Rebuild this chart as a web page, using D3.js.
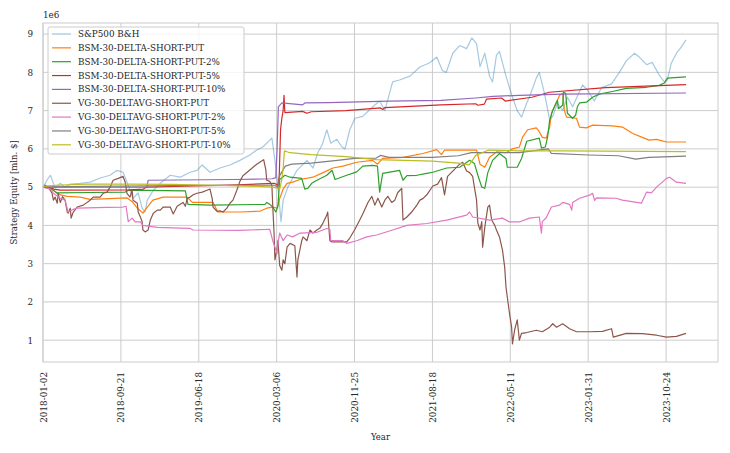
<!DOCTYPE html>
<html>
<head>
<meta charset="utf-8">
<script src="https://cdn.jsdelivr.net/npm/d3@7"></script>
<style>
  body { margin: 0; background: #fff; }
  text { font-family: "DejaVu Serif", serif; fill: #262626; }
</style>
</head>
<body>
<div id="chart"></div>
<script>
// tick positions are trading-day indices, labels are the dates at those indices
var tickIndex = [0, 180, 360, 540, 720, 900, 1080, 1260, 1440];
var tickLabels = ["2018-01-02", "2018-09-21", "2019-06-18", "2020-03-06", "2020-11-25",
                  "2021-08-18", "2022-05-11", "2023-01-31", "2023-10-24"];
var yTicks = [1, 2, 3, 4, 5, 6, 7, 8, 9];

var seriesNames = ["S&P500 B&H", "BSM-30-DELTA-SHORT-PUT", "BSM-30-DELTA-SHORT-PUT-2%",
  "BSM-30-DELTA-SHORT-PUT-5%", "BSM-30-DELTA-SHORT-PUT-10%", "VG-30-DELTAVG-SHORT-PUT",
  "VG-30-DELTAVG-SHORT-PUT-2%", "VG-30-DELTAVG-SHORT-PUT-5%", "VG-30-DELTAVG-SHORT-PUT-10%"];

// [trading day index, equity in mln $]
var spx = [[0,5.0],[3,5.05],[10,5.2],[17,5.31],[28,4.98],[40,5.1],[50,5.0],[63,5.08],[86,5.1],[109,5.13],[132,5.24],[155,5.31],[171,5.44],[185,5.39],[195,5.1],[208,4.71],[220,4.85],[229,4.45],[236,4.35],[241,4.66],[255,4.92],[271,5.1],[294,5.31],[317,5.26],[340,5.39],[356,5.44],[368,5.58],[386,5.39],[409,5.5],[432,5.58],[455,5.7],[478,5.84],[494,5.97],[508,6.05],[529,6.28],[536,5.7],[543,5.0],[550,4.1],[555,4.66],[566,5.0],[587,5.44],[610,5.7],[624,5.5],[635,5.9],[645,6.1],[656,6.5],[665,6.15],[679,6.25],[691,6.05],[698,6.0],[709,6.5],[721,6.8],[739,6.85],[762,7.1],[778,7.25],[790,7.0],[808,7.75],[824,7.8],[848,7.9],[871,8.14],[894,8.25],[910,8.4],[923,8.05],[932,8.0],[947,8.5],[963,8.7],[979,8.62],[991,8.9],[1002,8.75],[1010,8.15],[1021,8.5],[1032,7.9],[1039,7.75],[1048,8.45],[1055,8.55],[1070,7.9],[1085,7.35],[1096,7.0],[1106,6.83],[1118,7.2],[1124,7.35],[1140,7.85],[1147,8.0],[1159,7.45],[1171,6.75],[1178,6.85],[1189,7.2],[1201,7.0],[1212,7.35],[1224,7.1],[1236,7.4],[1247,7.67],[1258,7.55],[1274,7.25],[1291,7.6],[1314,7.7],[1332,8.0],[1348,8.3],[1367,8.5],[1378,8.4],[1395,8.2],[1408,8.26],[1424,7.93],[1436,7.75],[1443,7.8],[1452,8.24],[1464,8.5],[1475,8.66],[1486,8.85]];

var bsmPut = [[0,5.0],[17,4.98],[31,4.85],[40,4.8],[56,4.76],[86,4.74],[109,4.68],[155,4.7],[194,4.72],[206,4.62],[218,4.45],[231,4.32],[241,4.48],[254,4.66],[278,4.74],[333,4.74],[345,4.6],[393,4.6],[404,4.35],[455,4.35],[501,4.37],[517,4.45],[531,4.48],[541,4.45],[547,4.7],[555,4.95],[564,5.1],[577,5.13],[594,5.2],[624,5.26],[651,5.4],[670,5.5],[693,5.55],[725,5.65],[762,5.7],[773,5.6],[785,5.75],[832,5.78],[878,5.88],[910,5.98],[921,5.85],[928,5.97],[1002,5.97],[1010,5.6],[1021,5.52],[1032,5.78],[1048,5.92],[1070,5.9],[1085,6.0],[1101,6.05],[1108,6.3],[1120,6.5],[1140,6.55],[1147,6.45],[1154,6.3],[1163,6.28],[1171,6.57],[1175,6.93],[1194,7.4],[1201,7.45],[1205,7.0],[1210,6.83],[1233,6.8],[1240,6.57],[1256,6.55],[1270,6.62],[1316,6.6],[1339,6.57],[1362,6.41],[1385,6.3],[1401,6.23],[1418,6.25],[1441,6.18],[1486,6.18]];

var bsmPut2 = [[0,5.0],[17,4.97],[33,4.85],[109,4.86],[190,4.87],[197,4.92],[329,4.9],[335,4.55],[386,4.53],[513,4.55],[517,4.6],[524,4.55],[531,4.48],[538,4.35],[543,4.5],[547,5.2],[559,5.31],[571,5.26],[598,5.23],[605,4.95],[612,4.97],[621,5.1],[633,5.18],[656,5.31],[668,5.44],[675,5.2],[702,5.31],[725,5.4],[739,5.55],[762,5.57],[773,5.55],[778,4.87],[785,5.36],[824,5.44],[832,5.18],[841,5.3],[864,5.31],[887,5.36],[901,5.39],[933,5.5],[963,5.52],[986,5.7],[997,5.62],[1005,5.31],[1014,5.0],[1021,4.97],[1028,5.38],[1039,5.7],[1055,5.88],[1070,5.75],[1073,5.52],[1096,5.52],[1106,5.75],[1118,6.2],[1147,6.28],[1152,6.02],[1161,6.05],[1166,6.3],[1171,6.75],[1178,7.0],[1189,7.27],[1191,7.05],[1201,7.14],[1203,7.48],[1208,7.45],[1212,6.93],[1224,6.8],[1231,6.88],[1235,7.1],[1240,7.2],[1256,7.22],[1270,7.35],[1286,7.43],[1316,7.5],[1348,7.58],[1395,7.61],[1424,7.66],[1436,7.72],[1443,7.85],[1486,7.88]];

var bsmPut5 = [[0,5.0],[15,5.0],[25,4.95],[40,4.92],[200,4.93],[232,4.95],[238,5.0],[350,5.03],[450,5.06],[535,5.1],[543,5.05],[546,5.3],[549,6.5],[552,6.8],[555,7.0],[557,7.4],[559,6.95],[600,6.98],[610,6.93],[620,6.97],[700,7.0],[780,7.07],[785,7.03],[790,7.08],[920,7.15],[1000,7.18],[1005,7.14],[1020,7.17],[1025,7.3],[1060,7.33],[1068,7.25],[1130,7.35],[1170,7.48],[1300,7.6],[1486,7.68]];

var bsmPut10 = [[0,5.0],[240,5.0],[243,5.18],[440,5.2],[530,5.22],[538,5.25],[541,6.0],[544,7.1],[552,7.2],[600,7.15],[605,7.2],[660,7.21],[800,7.25],[920,7.27],[1000,7.33],[1040,7.37],[1100,7.4],[1200,7.43],[1486,7.46]];

var vgPut = [[0,5.0],[5,5.05],[12,5.0],[21,4.84],[24,4.66],[28,4.74],[33,4.58],[35,4.84],[40,4.6],[45,4.75],[51,4.66],[56,4.35],[58,4.32],[63,4.45],[65,4.19],[70,4.35],[79,4.48],[93,4.53],[109,4.66],[116,4.74],[132,4.74],[139,4.84],[148,4.87],[155,5.0],[162,5.18],[174,5.23],[185,5.28],[190,5.13],[194,4.84],[201,4.74],[206,4.92],[208,4.66],[218,4.58],[220,4.35],[225,4.22],[229,4.1],[231,3.88],[236,3.83],[243,3.88],[248,4.14],[255,4.32],[264,4.4],[271,4.4],[278,4.48],[294,4.48],[301,4.3],[310,4.5],[317,4.55],[324,4.6],[329,4.5],[333,4.7],[340,4.74],[347,4.8],[356,4.84],[368,4.87],[379,4.92],[386,4.95],[391,4.7],[393,4.48],[402,4.37],[409,4.38],[416,4.35],[425,4.45],[432,4.58],[439,4.66],[448,4.92],[455,5.15],[462,5.3],[478,5.45],[494,5.6],[508,5.7],[510,5.72],[515,5.45],[517,5.18],[524,5.15],[529,5.05],[531,4.5],[534,3.8],[536,3.1],[541,3.4],[543,3.6],[547,2.95],[552,2.83],[555,3.1],[559,3.0],[564,3.43],[571,3.53],[582,3.47],[587,2.65],[589,3.1],[598,3.6],[601,3.7],[610,3.6],[617,3.88],[624,3.8],[633,3.88],[640,3.93],[647,4.06],[656,4.27],[658,4.35],[663,3.6],[668,3.57],[702,3.57],[709,3.67],[721,3.9],[732,4.14],[739,4.3],[751,4.6],[760,4.76],[767,4.53],[774,4.71],[783,4.48],[790,4.66],[797,4.76],[806,4.6],[813,4.66],[820,4.86],[829,4.97],[832,4.14],[841,4.22],[852,4.35],[864,4.53],[871,4.66],[878,4.7],[887,4.8],[901,5.03],[912,5.08],[921,5.25],[928,4.8],[935,5.28],[947,5.42],[963,5.6],[970,5.65],[979,5.42],[986,5.38],[993,5.28],[997,5.0],[1002,4.66],[1005,4.06],[1010,3.88],[1014,4.1],[1016,3.43],[1021,3.95],[1028,4.48],[1032,4.53],[1037,4.14],[1044,4.0],[1048,3.88],[1055,3.7],[1062,3.35],[1067,2.91],[1070,2.39],[1073,2.13],[1078,1.71],[1083,1.34],[1085,0.9],[1090,1.27],[1096,1.53],[1101,1.0],[1106,1.18],[1118,1.2],[1140,1.26],[1154,1.22],[1171,1.34],[1178,1.43],[1187,1.34],[1201,1.43],[1217,1.3],[1233,1.22],[1263,1.22],[1293,1.23],[1314,1.3],[1318,1.08],[1348,1.18],[1385,1.17],[1418,1.13],[1441,1.08],[1464,1.1],[1486,1.18]];

var vgPut2 = [[0,5.0],[17,4.95],[24,4.84],[40,4.71],[51,4.66],[58,4.35],[70,4.42],[79,4.45],[148,4.47],[185,4.48],[192,4.5],[197,4.1],[206,4.19],[213,4.09],[225,4.09],[231,4.0],[264,3.95],[317,3.93],[340,3.92],[347,3.88],[455,3.87],[524,3.9],[531,3.6],[536,3.43],[541,3.27],[543,3.53],[547,3.8],[555,3.6],[564,3.75],[577,3.7],[594,3.8],[633,3.82],[656,3.92],[663,3.9],[665,3.6],[693,3.6],[702,3.53],[725,3.6],[748,3.7],[771,3.75],[808,3.88],[841,4.0],[887,4.05],[933,4.14],[979,4.27],[986,4.35],[993,4.22],[1032,4.14],[1062,4.19],[1078,4.09],[1101,4.09],[1124,4.19],[1147,4.22],[1152,3.8],[1154,4.1],[1163,4.2],[1175,4.48],[1194,4.53],[1201,4.6],[1217,4.55],[1222,4.4],[1224,4.6],[1240,4.71],[1263,4.79],[1270,4.84],[1275,4.65],[1279,4.72],[1325,4.71],[1339,4.66],[1383,4.58],[1395,4.87],[1406,4.85],[1418,5.0],[1441,5.23],[1448,5.26],[1464,5.13],[1486,5.1]];

var vgPut5 = [[0,5.0],[100,5.02],[200,5.03],[300,5.04],[400,5.05],[500,5.05],[535,5.05],[543,5.0],[547,5.3],[552,5.4],[560,5.55],[575,5.6],[620,5.63],[680,5.7],[720,5.75],[770,5.76],[780,5.83],[800,5.78],[900,5.78],[960,5.82],[990,5.9],[1050,5.9],[1100,5.9],[1168,6.0],[1175,5.88],[1260,5.84],[1330,5.82],[1370,5.73],[1400,5.78],[1486,5.81]];

var vgPut10 = [[0,5.02],[30,5.05],[100,5.08],[200,5.08],[300,5.07],[400,5.05],[500,5.02],[530,5.0],[540,4.98],[547,4.95],[552,5.2],[555,5.5],[558,5.95],[570,5.9],[620,5.85],[700,5.8],[770,5.72],[900,5.68],[960,5.63],[985,5.58],[990,5.66],[1000,5.83],[1030,5.97],[1100,5.95],[1200,5.95],[1486,5.93]];

var seriesData = [spx, bsmPut, bsmPut2, bsmPut5, bsmPut10, vgPut, vgPut2, vgPut5, vgPut10];
var colors = ["#1f77b4", "#ff7f0e", "#2ca02c", "#d62728", "#9467bd",
              "#8c564b", "#e377c2", "#7f7f7f", "#bcbd22"];

var W = 730, H = 453;
var margin = {top: 23, right: 12, bottom: 91, left: 43},
    width = W - margin.left - margin.right,
    height = H - margin.top - margin.bottom;

var svg = d3.select("#chart").append("svg")
    .attr("width", W)
    .attr("height", H);

var g = svg.append("g")
    .attr("transform", "translate(" + margin.left + "," + margin.top + ")");

var x = d3.scaleLinear().domain([0, 1560]).range([0, width]);
var y = d3.scaleLinear().domain([0.43, 9.29]).range([height, 0]);

// grid
g.append("g")
  .selectAll("line.vg")
  .data(tickIndex)
  .enter().append("line")
    .attr("x1", function(d) { return x(d); })
    .attr("x2", function(d) { return x(d); })
    .attr("y1", 0).attr("y2", height)
    .attr("stroke", "#cccccc").attr("stroke-width", 1);

g.append("g")
  .selectAll("line.hg")
  .data(yTicks)
  .enter().append("line")
    .attr("x1", 0).attr("x2", width)
    .attr("y1", function(d) { return y(d); })
    .attr("y2", function(d) { return y(d); })
    .attr("stroke", "#cccccc").attr("stroke-width", 1);

// axes (no tick marks, seaborn whitegrid style)
var xAxis = g.append("g")
    .attr("transform", "translate(0," + height + ")")
    .call(d3.axisBottom(x).tickValues(tickIndex)
      .tickFormat(function(d, i) { return tickLabels[i]; })
      .tickSize(0).tickPadding(0));
xAxis.select(".domain").remove();
xAxis.selectAll("text")
    .attr("transform", "rotate(-90)")
    .attr("x", -10).attr("y", 0).attr("dy", "0.35em")
    .style("text-anchor", "end")
    .style("font-size", "8.8px");

var yAxis = g.append("g")
    .call(d3.axisLeft(y).tickValues(yTicks).tickFormat(d3.format("d"))
      .tickSize(0).tickPadding(10));
yAxis.select(".domain").remove();
yAxis.selectAll("text").style("font-size", "8.8px");

// lines
var line = d3.line()
    .x(function(d) { return x(d[0]); })
    .y(function(d) { return y(d[1]); });

seriesData.forEach(function(s, i) {
  g.append("path")
    .datum(s)
    .attr("fill", "none")
    .attr("stroke", colors[i])
    .attr("stroke-opacity", i === 0 ? 0.4 : 1)
    .attr("stroke-width", 1.2)
    .attr("stroke-linejoin", "round")
    .attr("d", line);
});

// frame
g.append("rect")
    .attr("width", width).attr("height", height)
    .attr("fill", "none").attr("stroke", "#cccccc").attr("stroke-width", 1);

// offset text and axis labels
svg.append("text")
    .attr("x", margin.left).attr("y", 18)
    .style("font-size", "8.8px")
    .text("1e6");

svg.append("text")
    .attr("x", margin.left + width / 2).attr("y", 440)
    .attr("text-anchor", "middle")
    .style("font-size", "8.5px")
    .text("Year");

svg.append("text")
    .attr("transform", "translate(17," + (margin.top + height / 2) + ")rotate(-90)")
    .attr("text-anchor", "middle")
    .style("font-size", "8.5px")
    .text("Strategy Equity [mln. $]");

// legend
var leg = g.append("g").attr("transform", "translate(5,4)");
leg.append("rect")
    .attr("width", 196).attr("height", 127)
    .attr("rx", 2)
    .attr("fill", "#ffffff").attr("fill-opacity", 0.8)
    .attr("stroke", "#cccccc").attr("stroke-width", 1);

var items = leg.selectAll("g.item")
    .data(seriesNames)
    .enter().append("g")
    .attr("transform", function(d, i) { return "translate(0," + (7 + i * 13.85) + ")"; });

items.append("line")
    .attr("x1", 4).attr("x2", 23)
    .attr("y1", 0).attr("y2", 0)
    .attr("stroke", function(d, i) { return colors[i]; })
    .attr("stroke-opacity", function(d, i) { return i === 0 ? 0.4 : 1; })
    .attr("stroke-width", 1.2);

items.append("text")
    .attr("x", 30).attr("y", 0).attr("dy", "0.35em")
    .style("font-size", "8.8px")
    .text(function(d) { return d; });
</script>
</body>
</html>
